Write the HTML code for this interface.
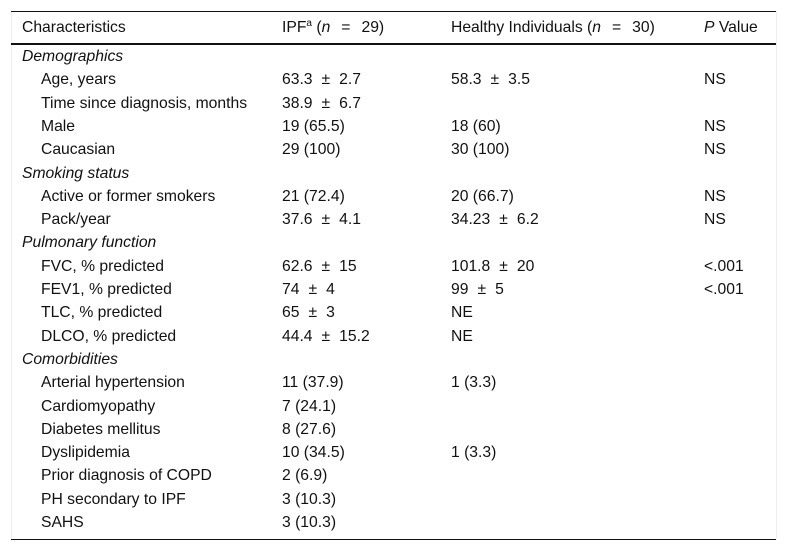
<!DOCTYPE html>
<html><head><meta charset="utf-8"><style>
body{margin:0;width:786px;height:551px;background:#fff;font-family:"Liberation Sans",sans-serif;font-size:15.7px;color:#111;position:relative;overflow:hidden}
.frame{position:absolute;left:11px;top:11px;width:764px;height:528px;border-left:1px solid #eee;border-right:1px solid #eee}
.hl{position:absolute;left:11px;width:765px;background:#111}
.c{position:absolute;height:22px;line-height:22px;white-space:nowrap}
.pm{padding:0 9px}
i{font-style:italic}
sup{font-size:10px;line-height:0}
</style></head><body>
<div class="frame"></div>
<div class="hl" style="top:11px;height:1px"></div>
<div class="hl" style="top:43px;height:2px"></div>
<div class="hl" style="top:539px;height:1px"></div>
<div class="c" style="left:22px;top:17px">Characteristics</div>
<div class="c" style="left:282px;top:17px">IPF<sup>a</sup> (<i>n</i><span style="padding:0 11px">=</span>29)</div>
<div class="c" style="left:451px;top:17px">Healthy Individuals (<i>n</i><span style="padding:0 11px">=</span>30)</div>
<div class="c" style="left:704px;top:17px"><i>P</i> Value</div>
<div id="rows"></div>
<script>
const labels=["Demographics","Age, years","Time since diagnosis, months","Male","Caucasian","Smoking status","Active or former smokers","Pack/year","Pulmonary function","FVC, % predicted","FEV1, % predicted","TLC, % predicted","DLCO, % predicted","Comorbidities","Arterial hypertension","Cardiomyopathy","Diabetes mellitus","Dyslipidemia","Prior diagnosis of COPD","PH secondary to IPF","SAHS"];
const sections=[0,5,8,13];
const ipf=["","63.3 ± 2.7","38.9 ± 6.7","19 (65.5)","29 (100)","","21 (72.4)","37.6 ± 4.1","","62.6 ± 15","74 ± 4","65 ± 3","44.4 ± 15.2","","11 (37.9)","7 (24.1)","8 (27.6)","10 (34.5)","2 (6.9)","3 (10.3)","3 (10.3)"];
const healthy=["","58.3 ± 3.5","","18 (60)","30 (100)","","20 (66.7)","34.23 ± 6.2","","101.8 ± 20","99 ± 5","NE","NE","","1 (3.3)","","","1 (3.3)","","",""];
const pval=["","NS","","NS","NS","","NS","NS","","<.001","<.001","","","","","","","","","",""];
const root=document.getElementById('rows');
function cell(txt,x,y,name,ital){
  const d=document.createElement('div');
  d.className='c';
  d.style.left=x+'px';d.style.top=y+'px';
  if(ital)d.style.fontStyle='italic';
  const parts=txt.split(' ± ');
  d.appendChild(document.createTextNode(parts[0]));
  if(parts.length>1){
    const s=document.createElement('span');
    s.className='pm';
    s.textContent='±';
    d.appendChild(s);
    d.appendChild(document.createTextNode(parts[1]));
  }
  
  
  root.appendChild(d);
}
labels.forEach((l,i)=>{
  const y=Math.round(56+i*23.3-10);
  const sec=sections.includes(i);
  const key=l.toLowerCase().replace(/[^a-z0-9]+/g,'-').replace(/-$/,'');
  cell(l,sec?22:41,y,(sec?'section-':'label-')+key,sec);
  if(ipf[i])cell(ipf[i],282,y,'ipf-'+key,false);
  if(healthy[i])cell(healthy[i],451,y,'healthy-'+key,false);
  if(pval[i])cell(pval[i],704,y,'p-value-'+key,false);
});
</script>
</body></html>
